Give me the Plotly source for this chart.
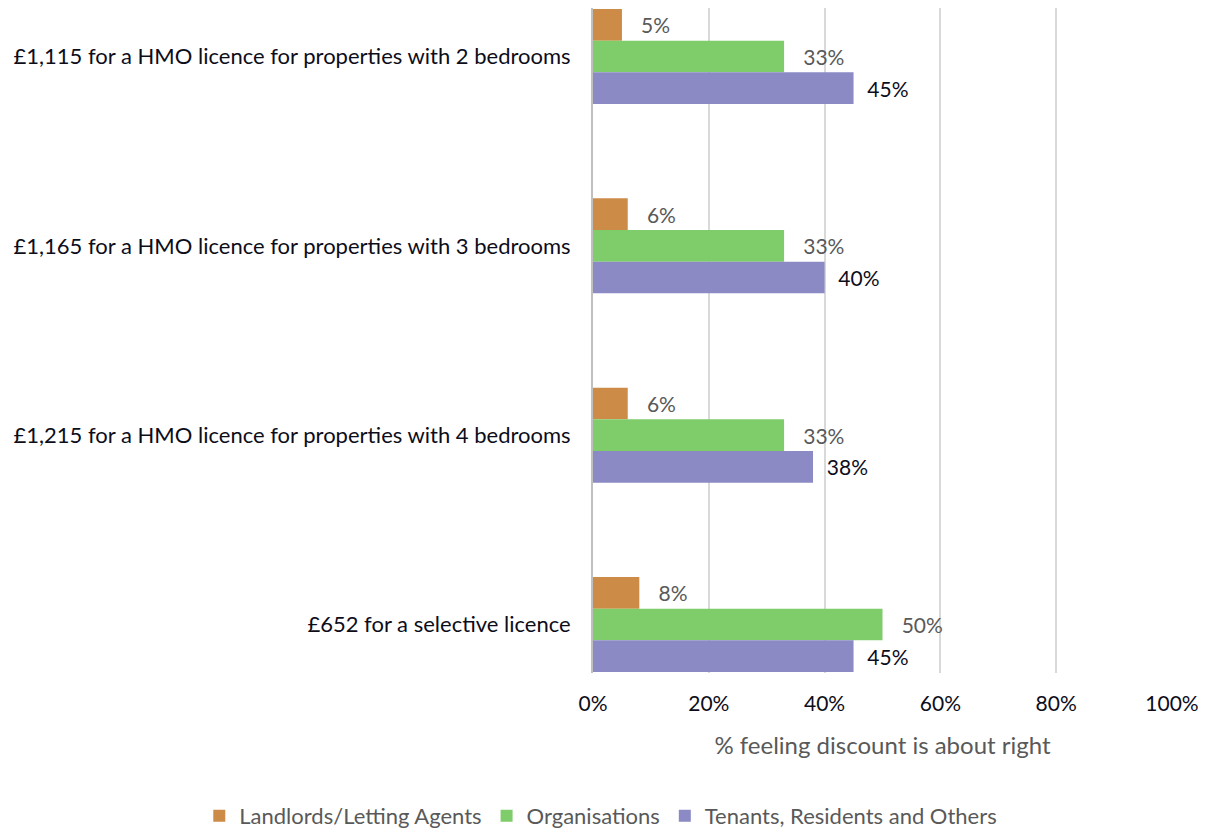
import plotly.graph_objects as go

categories = [
    "£1,115 for a HMO licence for properties with 2 bedrooms",
    "£1,165 for a HMO licence for properties with 3 bedrooms",
    "£1,215 for a HMO licence for properties with 4 bedrooms",
    "£652 for a selective licence",
]
landlords = [0.05, 0.06, 0.06, 0.08]
organisations = [0.33, 0.33, 0.33, 0.50]
tenants = [0.45, 0.40, 0.38, 0.45]

series = [
    ("Landlords/Letting Agents", landlords, "#CD8B48", "#595959", "   "),
    ("Organisations", organisations, "#7ECD6A", "#595959", "   "),
    ("Tenants, Residents and Others", tenants, "#8B8AC5", "#0D0D1A", "  "),
]

FONT = "Lato"

fig = go.Figure()
for name, vals, col, tcol, pad in series:
    fig.add_trace(go.Bar(
        y=categories, x=vals, name=name, orientation="h",
        marker=dict(color=col, line=dict(width=0)),
        texttemplate=pad + "%{x:.0%}", textposition="outside",
        textfont=dict(family=FONT, size=21, color=tcol),
        cliponaxis=False,
    ))

# page body has an 8px margin, so the figure is sized 8px short
fig.update_layout(
    width=1200, height=822,
    margin=dict(l=585, r=36, t=0, b=157, autoexpand=False),
    barmode="group", bargap=0.498, bargroupgap=0,
    plot_bgcolor="white", paper_bgcolor="white",
    font=dict(family=FONT, size=21, color="#0D0D1A"),
    legend=dict(
        orientation="h", x=-0.68, y=-0.215,
        xanchor="left", yanchor="middle",
        font=dict(family=FONT, size=22, color="#595959"),
        traceorder="normal",
    ),
)
fig.update_xaxes(
    range=[0, 1], tickvals=[0, 0.2, 0.4, 0.6, 0.8, 1.0], tickformat=".0%",
    showgrid=True, gridcolor="#D9D9D9", gridwidth=2, zeroline=False,
    ticklabelstandoff=16,
    tickfont=dict(family=FONT, size=21, color="#0D0D1A"),
    title=dict(text="% feeling discount is about right",
               font=dict(family=FONT, size=24, color="#595959"), standoff=23),
)
fig.update_yaxes(
    type="category", categoryorder="array", categoryarray=categories,
    range=[3.256, -0.256],
    showline=True, linecolor="#BFBFBF", linewidth=2,
    ticks="", ticklabelstandoff=16,
    tickfont=dict(family=FONT, size=22, color="#0D0D1A"),
)

fig.write_html("out.html")
